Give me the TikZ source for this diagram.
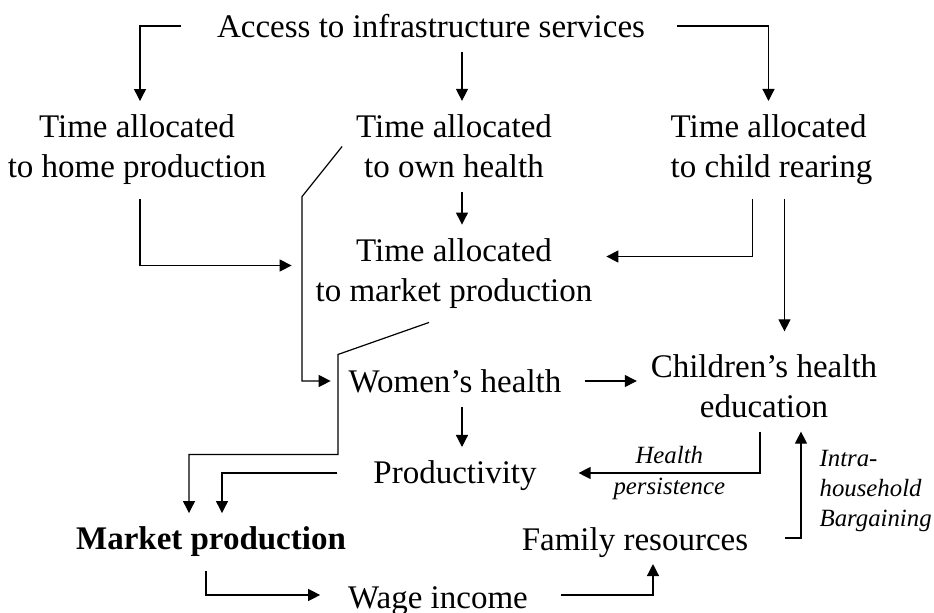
\documentclass[tikz,border=0pt]{standalone}
\usepackage{fontspec}
\setmainfont{Liberation Serif}[ItalicFont={Liberation Serif Italic}, BoldFont={Liberation Serif Bold}]
\usetikzlibrary{arrows.meta}

\def\mainSize{\fontsize{16.5}{20}\selectfont}
\def\noteSize{\fontsize{12.4}{15}\selectfont\itshape}

\begin{document}
\begin{tikzpicture}[x=0.5pt, y=-0.5pt, line width=0.6pt,
		box/.style={inner sep=0pt, outer sep=7pt, align=center, font=\mainSize},
		note/.style={inner sep=0pt, align=left, font=\noteSize},
		arr/.style={-{Triangle[length=6pt,width=6pt]}}]
		\useasboundingbox (0,0) rectangle (934,612);
		
		% top rows
		\node[box] (access) at (431,26) {Access to infrastructure services};
		\node[box] (home) at (137,150) {Time allocated\\to home production};
		\node[box] (own) at (454,146.5) {Time allocated\\to own health};
		\node[box, align=left] (child) at (771.5,150) {Time allocated\\to child rearing};
		\node[box] (mkt) at (454,273.5) {Time allocated\\to market production};
		
		% health and outcomes
		\node[box] (women) at (455,381) {Women's health};
		\node[box] (children) at (764,386) {Children's health\\education};
		\node[box] (prod) at (455,476) {Productivity};
		\node[box, font=\mainSize\bfseries] (mp) at (211,542) {Market production};
		\node[box] (family) at (635,543) {Family resources};
		\node[box] (wage) at (438,601) {Wage income};
		
		% from access
		\draw[arr] ([xshift=-11pt]access.west) -| ([xshift=1.5pt]home.north);
		\draw[arr] ([xshift=4pt]own.north |- access.south) -- ([xshift=4pt]own.north);
		\draw[arr] ([xshift=9pt]access.east) -| ([xshift=-1.5pt]child.north);
		
		% time allocation
		\draw[arr] ([xshift=1.5pt]home.south) |- ([xshift=-5pt,yshift=4pt]mkt.west);
		\draw[arr] ([xshift=4pt]own.south) -- ([xshift=4pt]mkt.north);
		\draw[arr] ([xshift=-9.5pt]child.south) |- ([yshift=8.5pt]mkt.east);
		\draw[arr] ([xshift=6.5pt]child.south) -- ([xshift=6.5pt,yshift=4.5pt]child.south |- children.north);
		\draw[arr] (own.west) -- ++(-40,50) |- ([xshift=-2pt]women.west);
		\draw[arr] ([xshift=-12.5pt]mkt.south) -- ++(-91,32) -- ++(0,100) -| ([xshift=-11pt]mp.north);
		
		% health links
		\draw[arr] ([xshift=5pt]women.east) -- (women.east -| children.west);
		\draw[arr] ([xshift=3.5pt]women.south) -- ([xshift=3.5pt]prod.north);
		\draw[arr] ([xshift=-2pt]children.south) |- ([xshift=14pt,yshift=1.5pt]prod.east)
			node[note, above=4.5pt, pos=0.75] {Health}
			node[note, below=2pt, pos=0.75] {persistence};
		\draw[arr] ([xshift=-11pt,yshift=1.5pt]prod.west) -| ([xshift=5.5pt]mp.north);
		
		% income loop
		\draw[arr] ([xshift=-2.5pt]mp.south) |- ([xshift=-7pt,yshift=3pt]wage.west);
		\draw[arr] ([xshift=9.5pt,yshift=3pt]wage.east) -| ([xshift=9pt,yshift=4pt]family.south);
		\draw[arr] ([xshift=11.5pt,yshift=2.5pt]family.east) -| ([xshift=18.5pt]children.south)
			node[note, right=9pt, pos=0.72] {Intra-\\household\\Bargaining};
\end{tikzpicture}
\end{document}
